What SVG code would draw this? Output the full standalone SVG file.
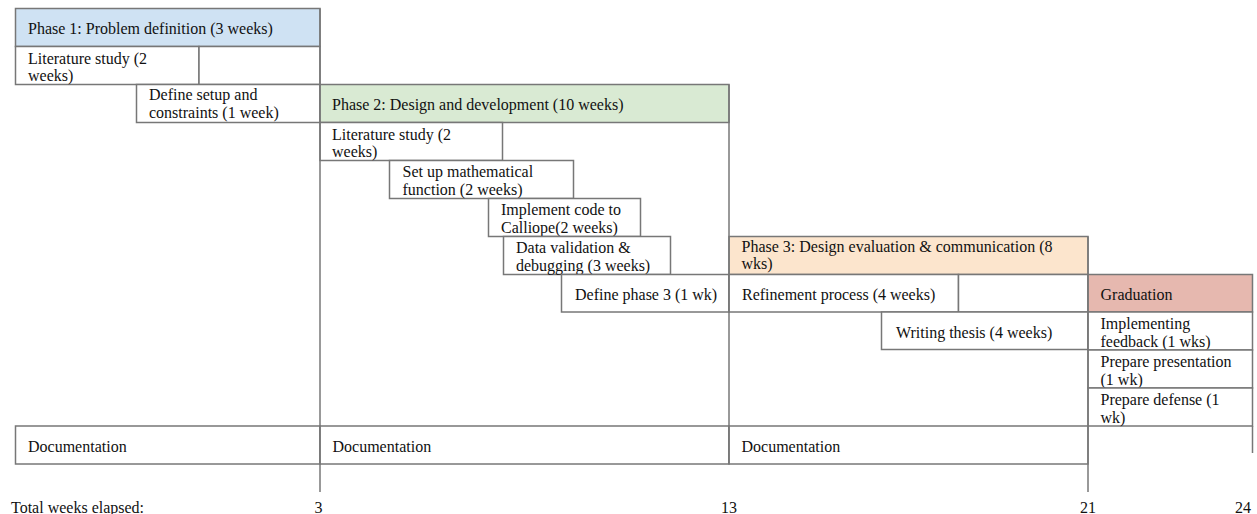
<svg xmlns="http://www.w3.org/2000/svg" width="1257" height="514" viewBox="0 0 1257 514">
  <style>
    .box { fill: #ffffff; stroke: #777777; stroke-width: 1.5; }
    .line { stroke: #777777; stroke-width: 1.5; fill: none; }
    .p1 { fill: #cfe2f3; }
    .p2 { fill: #d9ead3; }
    .p3 { fill: #fce5cd; }
    .grad { fill: #e6b8af; }
  </style>
  <rect width="1257" height="514" fill="#ffffff"/>

  <g font-family="'Liberation Serif', 'DejaVu Serif', 'Times New Roman', serif" font-size="16" fill="#111111">
  <!-- Phase 1 -->
  <g id="phase1">
    <rect class="box p1" x="15.5" y="8.5" width="304.5" height="38"/>
    <text x="28" y="34">Phase 1: Problem definition (3 weeks)</text>
  </g>
  <g id="lit1">
    <rect class="box" x="15.5" y="46.5" width="183.5" height="38"/>
    <rect class="box" x="199" y="46.5" width="121" height="38"/>
    <text x="28" y="64">Literature study (2</text>
    <text x="28" y="81">weeks)</text>
  </g>
  <g id="setup">
    <rect class="box" x="136.5" y="84.5" width="183.5" height="38"/>
    <text x="149" y="100">Define setup and</text>
    <text x="149" y="118">constraints (1 week)</text>
  </g>

  <!-- Phase 2 -->
  <g id="phase2">
    <rect class="box p2" x="320" y="84.5" width="409" height="38"/>
    <text x="332" y="110">Phase 2: Design and development (10 weeks)</text>
  </g>
  <g id="lit2">
    <rect class="box" x="320" y="122.5" width="182.5" height="38"/>
    <text x="332" y="140">Literature study (2</text>
    <text x="332" y="157">weeks)</text>
  </g>
  <g id="math">
    <rect class="box" x="389.5" y="160.5" width="184" height="38"/>
    <text x="402.5" y="177">Set up mathematical</text>
    <text x="402.5" y="195">function (2 weeks)</text>
  </g>
  <g id="code">
    <rect class="box" x="488.5" y="198.5" width="152" height="38"/>
    <text x="501" y="215">Implement code to</text>
    <text x="501" y="233">Calliope(2 weeks)</text>
  </g>
  <g id="validation">
    <rect class="box" x="503.5" y="236.5" width="167" height="38"/>
    <text x="516" y="253">Data validation &amp;</text>
    <text x="516" y="271">debugging (3 weeks)</text>
  </g>
  <g id="define3">
    <rect class="box" x="561.5" y="274.5" width="167.5" height="37.5"/>
    <text x="575" y="300">Define phase 3 (1 wk)</text>
  </g>

  <!-- Phase 3 -->
  <g id="phase3">
    <rect class="box p3" x="729" y="236.5" width="359" height="38"/>
    <text x="741.5" y="252">Phase 3: Design evaluation &amp; communication (8</text>
    <text x="741.5" y="269">wks)</text>
  </g>
  <g id="refine">
    <rect class="box" x="729" y="274.5" width="229.5" height="37.5"/>
    <rect class="box" x="958.5" y="274.5" width="129.5" height="37.5"/>
    <text x="742" y="300">Refinement process (4 weeks)</text>
  </g>
  <g id="thesis">
    <rect class="box" x="881.5" y="312" width="206.5" height="37.5"/>
    <text x="896" y="338">Writing thesis (4 weeks)</text>
  </g>

  <!-- Graduation -->
  <g id="graduation">
    <rect class="box grad" x="1088" y="274.5" width="164.5" height="37.5"/>
    <text x="1100.5" y="300">Graduation</text>
  </g>
  <g id="feedback">
    <rect class="box" x="1088" y="312" width="164.5" height="38"/>
    <text x="1100.5" y="329">Implementing</text>
    <text x="1100.5" y="347">feedback (1 wks)</text>
  </g>
  <g id="presentation">
    <rect class="box" x="1088" y="350" width="164.5" height="38"/>
    <text x="1100.5" y="367">Prepare presentation</text>
    <text x="1100.5" y="385">(1 wk)</text>
  </g>
  <g id="defense">
    <rect class="box" x="1088" y="388" width="164.5" height="38"/>
    <text x="1100.5" y="405">Prepare defense (1</text>
    <text x="1100.5" y="423">wk)</text>
  </g>

  <!-- Documentation row -->
  <g id="doc1">
    <rect class="box" x="15.5" y="426" width="304.5" height="38"/>
    <text x="28" y="452">Documentation</text>
  </g>
  <g id="doc2">
    <rect class="box" x="320" y="426" width="409" height="38"/>
    <text x="332.5" y="452">Documentation</text>
  </g>
  <g id="doc3">
    <rect class="box" x="729" y="426" width="359" height="38"/>
    <text x="741.5" y="452">Documentation</text>
  </g>

  <!-- Week markers -->
  <g id="connectors">
    <line class="line" x1="320" y1="8.5" x2="320" y2="492"/>
    <line class="line" x1="729" y1="84.5" x2="729" y2="464"/>
    <line class="line" x1="1088" y1="236.5" x2="1088" y2="492"/>
    <line class="line" x1="1252.5" y1="426" x2="1252.5" y2="453"/>
  </g>

  <g id="axis">
    <text x="11" y="513">Total weeks elapsed:</text>
    <text x="318.5" y="513" text-anchor="middle">3</text>
    <text x="729" y="513" text-anchor="middle">13</text>
    <text x="1088" y="513" text-anchor="middle">21</text>
    <text x="1243" y="513" text-anchor="middle">24</text>
  </g>
  </g>
</svg>
